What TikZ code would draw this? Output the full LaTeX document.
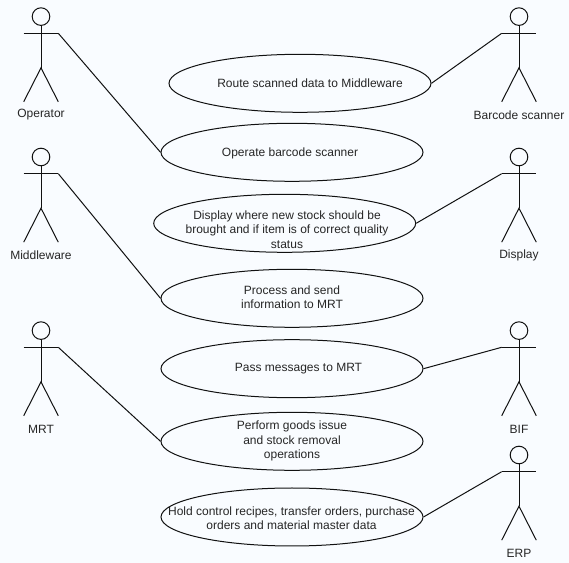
\documentclass[tikz,border=0pt]{standalone}
\usepackage{fontspec}
\setmainfont{Liberation Sans}
\usetikzlibrary{shapes.geometric}
\definecolor{bgc}{HTML}{F9FCFF}
\definecolor{ink}{HTML}{111111}
\tikzset{
  x=0.75pt,y=-0.75pt,
  lin/.style={draw=ink,line width=0.75pt},
  usecase/.style={ellipse,draw=ink,line width=0.75pt,minimum width=196.5pt,minimum height=43.5pt,inner sep=0pt},
  uctext/.style={align=center,inner sep=0pt,font=\fontsize{9pt}{10.8pt}\selectfont,text=black!85},
  lab/.style={font=\fontsize{9pt}{10.8pt}\selectfont,text=black!85,inner sep=0pt},
  actor/.pic={
    \draw[lin] (0,-16.7) circle[radius=8.8];
    \draw[lin] (0,-7.9) -- (0,34.5);
    \draw[lin] (-17.3,0) -- (17.3,0);
    \draw[lin] (-17.3,68.5) -- (0,34.5) -- (17.3,68.5);
  }
}
\begin{document}
\begin{tikzpicture}
\useasboundingbox[fill=bgc] (0,0) rectangle (569,563);
\path (41,33.3) pic {actor} coordinate[shift={(17.3,0)}] (aop);
\path (41,173.7) pic {actor} coordinate[shift={(17.3,0)}] (amw);
\path (41,347.3) pic {actor} coordinate[shift={(17.3,0)}] (amrt);
\path (519,33.3) pic {actor} coordinate[shift={(-17.3,0)}] (abc);
\path (519,173.7) pic {actor} coordinate[shift={(-17.3,0)}] (adi);
\path (519,347.3) pic {actor} coordinate[shift={(-17.3,0)}] (abif);
\path (519,471.7) pic {actor} coordinate[shift={(-17.3,0)}] (aerp);
\node[lab] (lop) at (41,115) {Operator};
\node[lab] (lmw) at (41,255) {Middleware};
\node[lab] (lmrt) at (41,429) {MRT};
\node[lab] (lbc) at (519,115) {Barcode scanner};
\node[lab] (ldi) at (519,255) {Display};
\node[lab] (lbif) at (519,429) {BIF};
\node[lab] (lerp) at (519,553) {ERP};
\node[usecase] (u1) at (300,83.3) {};
\node[usecase] (u2) at (292,152.3) {};
\node[usecase] (u3) at (284.7,223.3) {};
\node[usecase] (u4) at (292,298.3) {};
\node[usecase] (u5) at (292,368.7) {};
\node[usecase] (u6) at (292,441.3) {};
\node[usecase] (u7) at (292,517) {};
\node[uctext] (t1) at (310,83.3) {Route scanned data to Middleware};
\node[uctext] (t2) at (290,153) {Operate barcode scanner};
\node[uctext] (t3) at (287,229.5) {Display where new stock should be\\brought and if item is of correct quality\\status};
\node[uctext] (t4) at (292,297) {Process and send\\information to MRT};
\node[uctext] (t5) at (298.5,368.5) {Pass messages to MRT};
\node[uctext] (t6) at (292,441) {Perform goods issue\\and stock removal\\operations};
\node[uctext] (t7) at (291.5,518) {Hold control recipes, transfer orders, purchase\\orders and material master data};
\draw[lin] (aop) -- (u2.west);
\draw[lin] (amw) -- (u4.west);
\draw[lin] (amrt) -- (u6.west);
\draw[lin] (abc) -- (u1.east);
\draw[lin] (adi) -- (u3.east);
\draw[lin] (abif) -- (u5.east);
\draw[lin] (aerp) -- (u7.east);
\end{tikzpicture}
\end{document}
